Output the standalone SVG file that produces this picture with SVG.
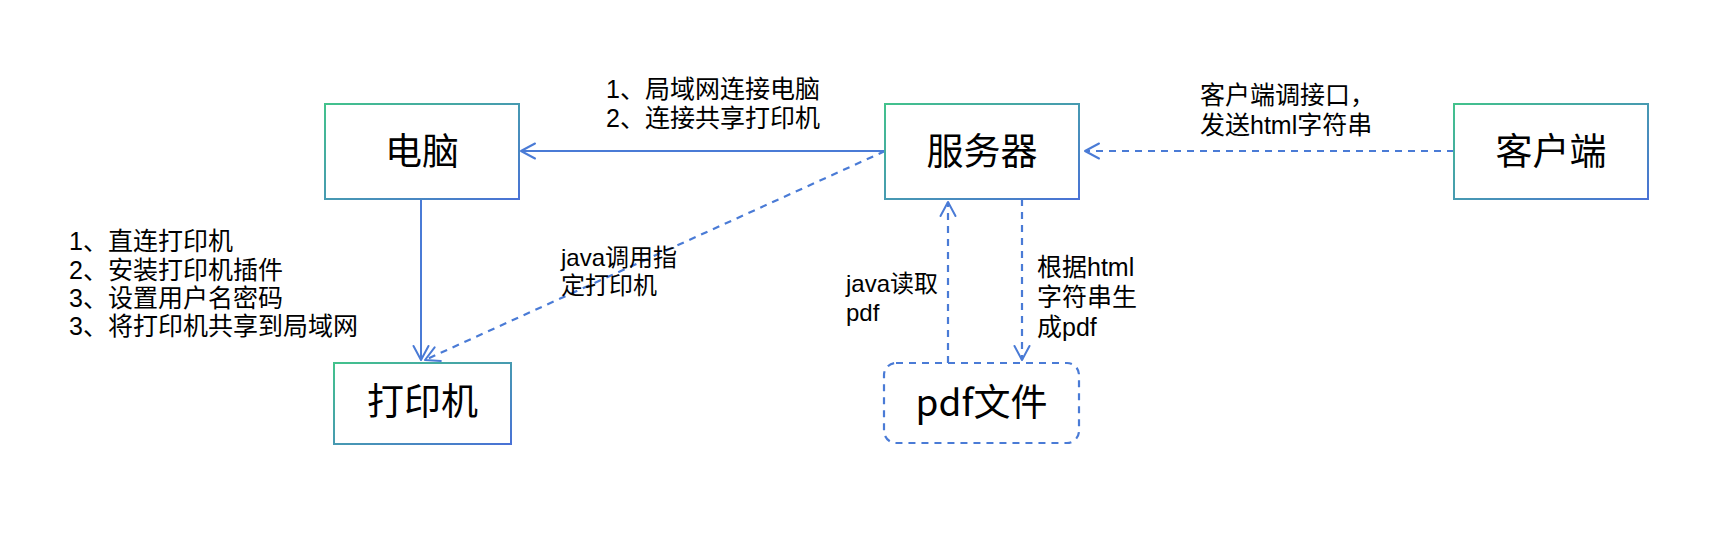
<svg xmlns="http://www.w3.org/2000/svg" width="1728" height="548" viewBox="0 0 1728 548">
  <defs>
    <linearGradient id="boxGrad" x1="0" y1="0" x2="1" y2="1">
      <stop offset="0" stop-color="#43c28c"/>
      <stop offset="1" stop-color="#4a72d6"/>
    </linearGradient>
    <marker id="arrow" markerUnits="userSpaceOnUse" markerWidth="30" markerHeight="30" refX="0" refY="0" viewBox="-20 -15 30 30" orient="auto" overflow="visible">
      <path d="M -14 -7.5 L 0 0 L -14 7.5" fill="none" stroke="#4a7bd6" stroke-width="2" stroke-linecap="round" stroke-linejoin="round"/>
    </marker>
  </defs>
  <style>
    .box { fill: #ffffff; stroke: url(#boxGrad); stroke-width: 2; }
    .dbox { fill: #ffffff; stroke: #4a7bd6; stroke-width: 2.2; stroke-dasharray: 7 6; }
    .node-label { font-family: "Noto Sans CJK SC", "Liberation Sans", sans-serif; font-size: 37px; fill: #000000; text-anchor: middle; }
    .edge-label { font-family: "Liberation Sans", "Noto Sans CJK SC", sans-serif; font-size: 25px; fill: #000000; }
    .small { font-size: 24px; }
    .conn { fill: none; stroke: #4a7bd6; stroke-width: 2; }
    .dash { stroke-width: 2.2; stroke-dasharray: 7 6; }
  </style>
  <rect width="1728" height="548" fill="#ffffff"/>

  <g id="connectors">
    <line class="conn" x1="885" y1="151" x2="521" y2="151" marker-end="url(#arrow)"/>
    <line class="conn" x1="421" y1="199" x2="421" y2="360" marker-end="url(#arrow)"/>
    <line class="conn dash" x1="885" y1="151" x2="425" y2="360" marker-end="url(#arrow)"/>
    <line class="conn dash" x1="1454" y1="151" x2="1085" y2="151" marker-end="url(#arrow)"/>
    <line class="conn dash" x1="948" y1="363" x2="948" y2="202" marker-end="url(#arrow)"/>
    <line class="conn dash" x1="1022" y1="199" x2="1022" y2="360" marker-end="url(#arrow)"/>
  </g>

  <g id="node-computer">
    <rect class="box" x="325" y="104" width="194" height="95"/>
    <text class="node-label" x="422" y="165">电脑</text>
  </g>
  <g id="node-server">
    <rect class="box" x="885" y="104" width="194" height="95"/>
    <text class="node-label" x="982" y="165">服务器</text>
  </g>
  <g id="node-client">
    <rect class="box" x="1454" y="104" width="194" height="95"/>
    <text class="node-label" x="1551" y="165">客户端</text>
  </g>
  <g id="node-printer">
    <rect class="box" x="334" y="363" width="177" height="81"/>
    <text class="node-label" x="422.5" y="415">打印机</text>
  </g>
  <g id="node-pdf">
    <rect class="dbox" x="884" y="363" width="195" height="80" rx="12" ry="12"/>
    <text class="node-label" x="981.5" y="416">pdf文件</text>
  </g>

  <g id="labels">
    <text class="edge-label" x="606" y="98">1、局域网连接电脑</text>
    <text class="edge-label" x="606" y="127">2、连接共享打印机</text>

    <text class="edge-label" x="1200" y="104">客户端调接口，</text>
    <text class="edge-label" x="1200" y="134">发送html字符串</text>

    <text class="edge-label" x="69" y="250">1、直连打印机</text>
    <text class="edge-label" x="69" y="279">2、安装打印机插件</text>
    <text class="edge-label" x="69" y="307">3、设置用户名密码</text>
    <text class="edge-label" x="69" y="335">3、将打印机共享到局域网</text>

    <text class="edge-label small" x="561" y="266">java调用指</text>
    <text class="edge-label small" x="561" y="294">定打印机</text>

    <text class="edge-label small" x="846" y="292">java读取</text>
    <text class="edge-label small" x="846" y="321">pdf</text>

    <text class="edge-label" x="1037" y="276">根据html</text>
    <text class="edge-label" x="1037" y="306">字符串生</text>
    <text class="edge-label" x="1037" y="336">成pdf</text>
  </g>
</svg>
